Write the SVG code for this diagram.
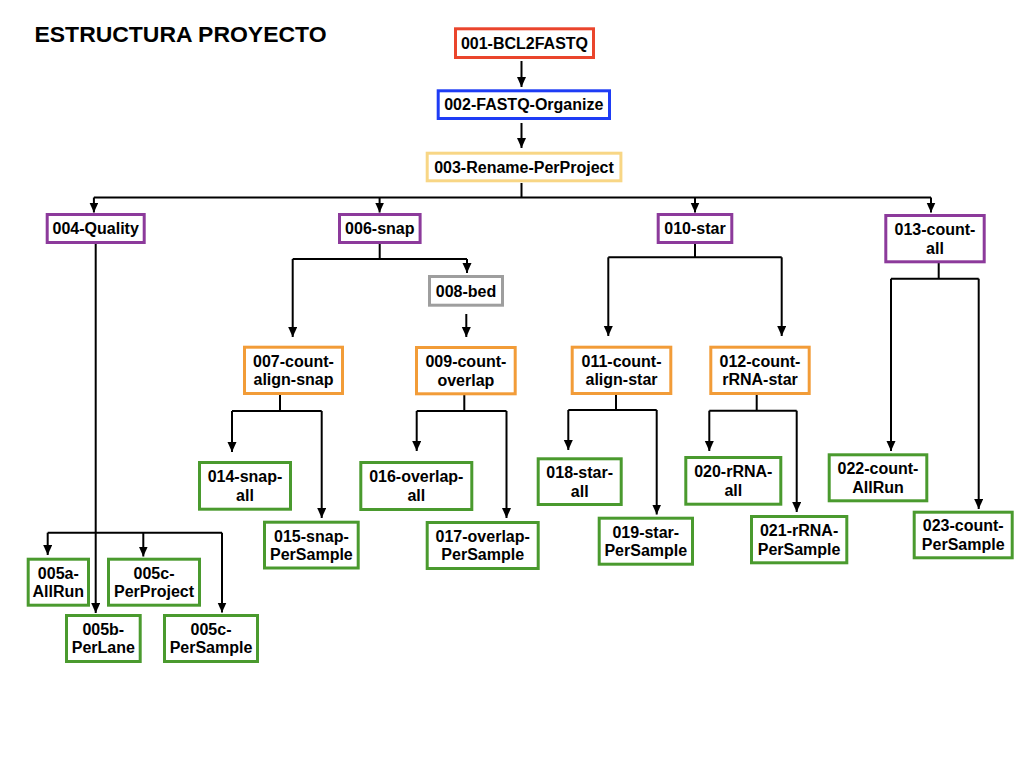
<svg xmlns="http://www.w3.org/2000/svg" width="1024" height="768" viewBox="0 0 1024 768">
<style>
.box{fill:#fff;stroke-width:3}
.red{stroke:#EA452C}.blue{stroke:#1E3CF5}.yel{stroke:#F8D685}.pur{stroke:#8C3A9B}.gry{stroke:#9E9E9E}.org{stroke:#F29C38}.grn{stroke:#4A9A2E}
text{font-family:"Liberation Sans",Arial,Helvetica,sans-serif;font-weight:bold;font-size:16px;fill:#000;text-anchor:middle}
.title{font-size:21.5px;text-anchor:start}
.c path{fill:none;stroke:#000;stroke-width:2}
.c path.a{marker-end:url(#ah)}
</style>
<defs>
<marker id="ah" markerUnits="userSpaceOnUse" markerWidth="10" markerHeight="10" refX="10" refY="4.5" orient="auto"><path d="M0,0 L10,4.5 L0,9 z" fill="#000"/></marker>
</defs>
<text class="title" x="34.5" y="41.7" textLength="292" lengthAdjust="spacingAndGlyphs">ESTRUCTURA PROYECTO</text>
<g class="c" id="connectors">
<path class="a" d="M521.5,61 V87"/>
<path class="a" d="M521.5,123 V148"/>
<path d="M521.5,183 V197.5"/>
<path d="M93.9,197.5 H931"/>
<path class="a" d="M93.9,197.5 V212.5"/>
<path class="a" d="M379.6,197.5 V212.5"/>
<path class="a" d="M695,197.5 V212.5"/>
<path class="a" d="M931,197.5 V212.5"/>
<path d="M379.7,244 V259 M292.7,259 H467"/>
<path class="a" d="M292.7,259 V337"/>
<path class="a" d="M467,259 V273"/>
<path class="a" d="M466.3,314 V337"/>
<path d="M695,244 V257.3 M608.3,257.3 H781.7"/>
<path class="a" d="M608.3,257.3 V336"/>
<path class="a" d="M781.7,257.3 V336"/>
<path d="M938.7,263 V278.7 M891,278.7 H978.7"/>
<path class="a" d="M891,278.7 V451"/>
<path class="a" d="M978.7,278.7 V509"/>
<path d="M280,395 V411 M232,411 H321.7"/>
<path class="a" d="M232,411 V452"/>
<path class="a" d="M321.7,411 V518"/>
<path d="M464.3,395 V411 M416.7,411 H506.5"/>
<path class="a" d="M416.7,411 V451"/>
<path class="a" d="M506.5,411 V518"/>
<path d="M616,395 V410 M568.3,410 H656.7"/>
<path class="a" d="M568.3,410 V450"/>
<path class="a" d="M656.7,410 V514.5"/>
<path d="M756.7,395 V410.7 M709.3,410.7 H796.7"/>
<path class="a" d="M709.3,410.7 V451"/>
<path class="a" d="M796.7,410.7 V512"/>
<path class="a" d="M95.7,244 V613"/>
<path d="M47.7,532.7 H222"/>
<path class="a" d="M47.7,532.7 V555"/>
<path class="a" d="M143.3,532.7 V556.5"/>
<path class="a" d="M222,532.7 V612.5"/>
</g>
<g id="n001"><rect class="box red" x="455.5" y="28.8" width="138" height="28.7"/><text x="524.5" y="48.9">001-BCL2FASTQ</text></g>
<g id="n002"><rect class="box blue" x="438.2" y="90.8" width="171.3" height="27.7"/><text x="523.8" y="110.4">002-FASTQ-Organize</text></g>
<g id="n003"><rect class="box yel" x="427.2" y="153.2" width="193.7" height="27.6"/><text x="524" y="172.7">003-Rename-PerProject</text></g>
<g id="n004"><rect class="box pur" x="47.2" y="214.5" width="97" height="28"/><text x="95.7" y="234.2">004-Quality</text></g>
<g id="n006"><rect class="box pur" x="339.5" y="214.5" width="80.6" height="28"/><text x="379.8" y="234.2">006-snap</text></g>
<g id="n010"><rect class="box pur" x="658.2" y="214.5" width="73.6" height="28"/><text x="695" y="234.2">010-star</text></g>
<g id="n013"><rect class="box pur" x="885.8" y="215.5" width="98.4" height="46.3"/><text x="935" y="235.1">013-count-</text><text x="935" y="253.6">all</text></g>
<g id="n008"><rect class="box gry" x="429.5" y="276.5" width="73" height="28.7"/><text x="466" y="296.5">008-bed</text></g>
<g id="n007"><rect class="box org" x="244.5" y="347.2" width="98" height="46.3"/><text x="293.5" y="366.8">007-count-</text><text x="293.5" y="385.3">align-snap</text></g>
<g id="n009"><rect class="box org" x="416.5" y="347.5" width="98.7" height="46.3"/><text x="465.9" y="367.1">009-count-</text><text x="465.9" y="385.6">overlap</text></g>
<g id="n011"><rect class="box org" x="572.2" y="347.2" width="98.6" height="46.3"/><text x="621.5" y="366.8">011-count-</text><text x="621.5" y="385.3">align-star</text></g>
<g id="n012"><rect class="box org" x="710.8" y="347.2" width="98.4" height="46.3"/><text x="760" y="366.8">012-count-</text><text x="760" y="385.3">rRNA-star</text></g>
<g id="n014"><rect class="box grn" x="199.5" y="462.5" width="91" height="46.7"/><text x="245" y="482.3">014-snap-</text><text x="245" y="500.8">all</text></g>
<g id="n015"><rect class="box grn" x="264.5" y="522.2" width="93.7" height="45.8"/><text x="311.4" y="541.5">015-snap-</text><text x="311.4" y="560">PerSample</text></g>
<g id="n016"><rect class="box grn" x="360.8" y="462.5" width="111" height="47"/><text x="416.3" y="482.4">016-overlap-</text><text x="416.3" y="500.9">all</text></g>
<g id="n017"><rect class="box grn" x="427.2" y="522.5" width="111" height="46"/><text x="482.7" y="541.9">017-overlap-</text><text x="482.7" y="560.4">PerSample</text></g>
<g id="n018"><rect class="box grn" x="538.2" y="458.8" width="83" height="45.7"/><text x="579.7" y="478">018-star-</text><text x="579.7" y="496.5">all</text></g>
<g id="n019"><rect class="box grn" x="599.2" y="518.2" width="93.3" height="46"/><text x="645.8" y="537.6">019-star-</text><text x="645.8" y="556.1">PerSample</text></g>
<g id="n020"><rect class="box grn" x="685.8" y="457.5" width="95" height="46.7"/><text x="733.3" y="477.3">020-rRNA-</text><text x="733.3" y="495.8">all</text></g>
<g id="n021"><rect class="box grn" x="751.5" y="516.5" width="95.3" height="46.3"/><text x="799.1" y="536.1">021-rRNA-</text><text x="799.1" y="554.6">PerSample</text></g>
<g id="n022"><rect class="box grn" x="829.2" y="454.8" width="97.6" height="46"/><text x="878" y="474.2">022-count-</text><text x="878" y="492.7">AllRun</text></g>
<g id="n023"><rect class="box grn" x="914.2" y="512.2" width="98" height="45.6"/><text x="963.2" y="531.4">023-count-</text><text x="963.2" y="549.9">PerSample</text></g>
<g id="n005a"><rect class="box grn" x="28.2" y="559.2" width="60.3" height="46"/><text x="58.3" y="578.6">005a-</text><text x="58.3" y="597.1">AllRun</text></g>
<g id="n005cp"><rect class="box grn" x="108.5" y="559.2" width="91" height="46"/><text x="154" y="578.6">005c-</text><text x="154" y="597.1">PerProject</text></g>
<g id="n005b"><rect class="box grn" x="66.5" y="615.5" width="73.7" height="46"/><text x="103.3" y="634.9">005b-</text><text x="103.3" y="653.4">PerLane</text></g>
<g id="n005cs"><rect class="box grn" x="164.5" y="615.5" width="93" height="46"/><text x="211" y="634.9">005c-</text><text x="211" y="653.4">PerSample</text></g>
</svg>
